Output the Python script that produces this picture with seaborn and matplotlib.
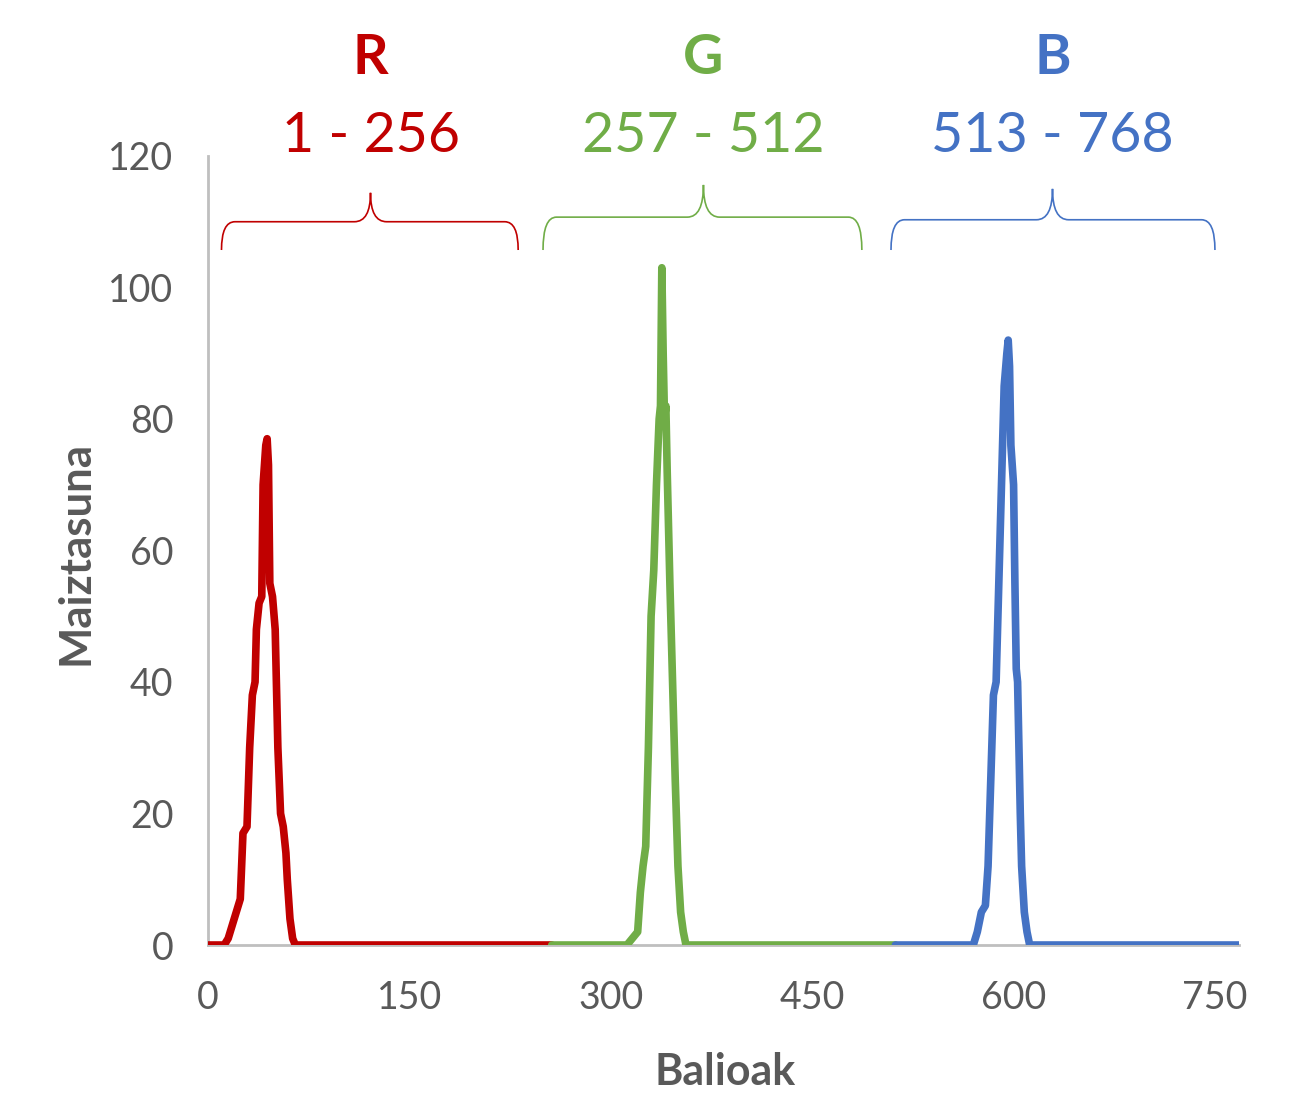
import numpy as np
import pandas as pd
import matplotlib.pyplot as plt
from matplotlib.path import Path
from matplotlib.patches import PathPatch
import seaborn as sns

# histogram points (value index, count)
red_x = [0, 12, 15, 18, 21, 24, 26, 29, 31, 33, 35, 36, 38, 40, 41, 43, 44, 45, 46, 48, 50, 52, 54, 56, 58, 59, 61, 63, 65, 256]
red_y = [0, 0, 1, 3, 5, 7, 17, 18, 30, 38, 40, 48, 52, 53, 70, 76, 77, 73, 55, 53, 48, 30, 20, 18, 14, 10, 4, 1, 0, 0]

green_x = [256, 312, 316, 320, 322, 324, 326, 328, 330, 332, 334, 336, 337, 338, 339, 340, 341, 342, 344, 346, 348, 350, 352, 354, 356, 512]
green_y = [0, 0, 1, 2, 8, 12, 15, 30, 50, 57, 70, 80, 82, 103, 90, 80, 82, 72, 55, 40, 25, 12, 5, 2, 0, 0]

blue_x = [512, 570, 573, 576, 579, 581, 583, 585, 587, 589, 591, 593, 595, 596, 597, 598, 600, 601, 602, 603, 605, 606, 608, 610, 612, 768]
blue_y = [0, 0, 2, 5, 6, 12, 25, 38, 40, 55, 70, 85, 90, 92, 88, 76, 70, 55, 42, 40, 20, 12, 5, 2, 0, 0]

channels = ['R', 'G', 'B']
ranges = ['1 - 256', '257 - 512', '513 - 768']
colors = ['#C00000', '#70AD47', '#4472C4']
# brace spans (x start, x end, centre) and heights (bottom, bar, tip)
braces = [(10, 231, 121, 105.7, 110.0, 114.4),
          (249.5, 487, 369, 105.7, 110.7, 115.6),
          (508.7, 750, 629, 105.7, 110.3, 115.0)]

sns.set_style('white')
plt.rcParams['font.family'] = ['Lato', 'DejaVu Sans']

fig = plt.figure(figsize=(13.02, 11), dpi=100)
ax = fig.add_axes([0.1598, 0.1409, 0.7919, 0.7173])

for xs, ys, c in zip([red_x, green_x, blue_x], [red_y, green_y, blue_y], colors):
    df = pd.DataFrame({'x': xs, 'y': ys})
    sns.lineplot(data=df, x='x', y='y', color=c, linewidth=5.5, ax=ax,
                 estimator=None, sort=False, solid_joinstyle='round', zorder=3)

ax.set_xlim(0, 768)
ax.set_ylim(0, 120)
ax.set_xticks([0, 150, 300, 450, 600, 750])
ax.set_yticks([0, 20, 40, 60, 80, 100, 120])
for s in ['top', 'right']:
    ax.spines[s].set_visible(False)
for s in ['left', 'bottom']:
    ax.spines[s].set_color('#BFBFBF')
    ax.spines[s].set_linewidth(2)
ax.tick_params(axis='both', colors='#BFBFBF', labelcolor='#595959',
               labelsize=27, length=7, width=2, pad=18)
ax.set_xlabel('Balioak', fontsize=31, fontweight='bold', color='#595959')
ax.set_ylabel('Maiztasuna', fontsize=31.5, fontweight='bold', color='#595959')
ax.xaxis.set_label_coords(0.501, -0.161)
ax.xaxis.label.set_va('center')
ax.yaxis.set_label_coords(-0.129, 0.497)
ax.yaxis.label.set_va('center')
ax.yaxis.label.set_ha('center')

for (x0, x1, xc, yb, yh, yt), c in zip(braces, colors):
    re, rt = 10, 12
    verts = [(x0, yb), (x0, yh), (x0 + re, yh),
             (xc - rt, yh),
             (xc, yh), (xc, yt),
             (xc, yh), (xc + rt, yh),
             (x1 - re, yh),
             (x1, yh), (x1, yb)]
    codes = [Path.MOVETO, Path.CURVE3, Path.CURVE3,
             Path.LINETO,
             Path.CURVE3, Path.CURVE3,
             Path.CURVE3, Path.CURVE3,
             Path.LINETO,
             Path.CURVE3, Path.CURVE3]
    ax.add_patch(PathPatch(Path(verts, codes), facecolor='none', edgecolor=c,
                           linewidth=1.2, clip_on=False))

for ch, rg, (x0, x1, xc, yb, yh, yt), c in zip(channels, ranges, braces, colors):
    ax.text(xc, 134.9, ch, color=c, fontsize=40, fontweight='bold',
            ha='center', va='center', clip_on=False)
    ax.text(xc, 123.0, rg, color=c, fontsize=40,
            ha='center', va='center', clip_on=False)

fig.savefig('out.png', dpi=100)
